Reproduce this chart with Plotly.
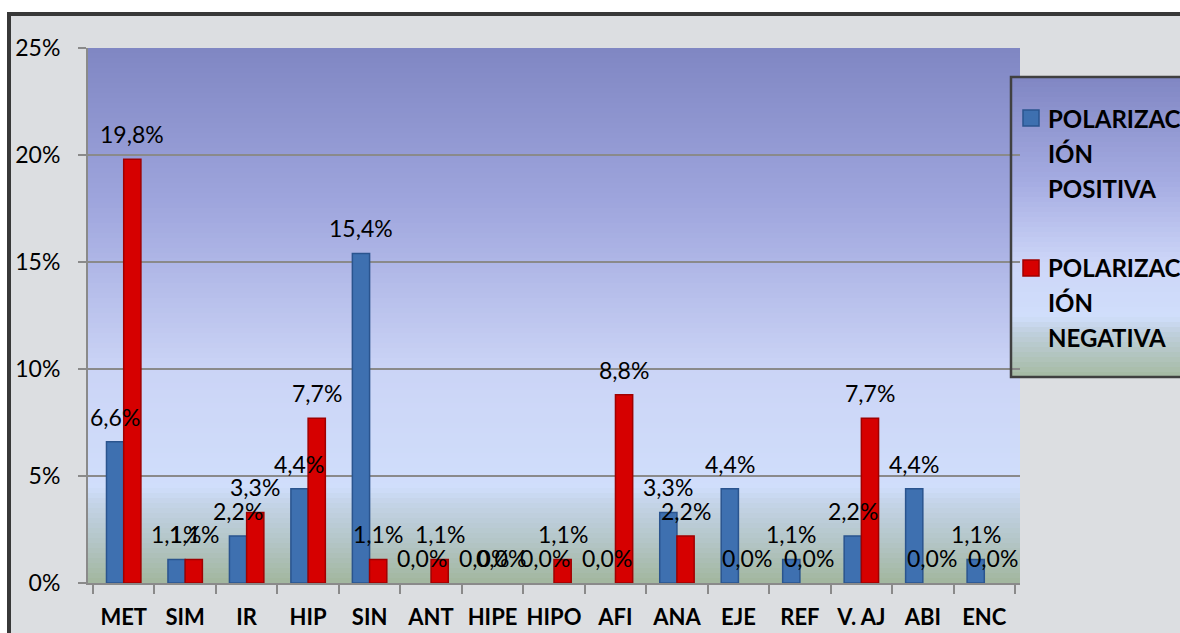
import plotly.graph_objects as go

categories = ["MET", "SIM", "IR", "HIP", "SIN", "ANT", "HIPE", "HIPO", "AFI", "ANA", "EJE", "REF", "V. AJ", "ABI", "ENC"]
positiva = [6.6, 1.1, 2.2, 4.4, 15.4, 0.0, 0.0, 0.0, 0.0, 3.3, 4.4, 1.1, 2.2, 4.4, 1.1]
negativa = [19.8, 1.1, 3.3, 7.7, 1.1, 1.1, 0.0, 1.1, 8.8, 2.2, 0.0, 0.0, 7.7, 0.0, 0.0]
series_names = ["POLARIZACIÓN POSITIVA", "POLARIZACIÓN NEGATIVA"]
legend_lines = [["POLARIZAC", "IÓN", "POSITIVA"], ["POLARIZAC", "IÓN", "NEGATIVA"]]
y_ticks = [0, 5, 10, 15, 20, 25]

W, H = 1180, 633
ML, MR, MT, MB = 88, 160, 48, 50
PW, PH = W - ML - MR, H - MT - MB
FONT = "Lato"
GRID = "#8a8a8a"
BLUE, BLUE_EDGE = "#3e70b0", "#2a548e"
RED, RED_EDGE = "#d60000", "#a00000"
BARGAP = 0.44


def px_x(px):
    return (px - ML) / PW


def px_y(py):
    return (H - MB - py) / PH


def lerp_color(stops, t):
    for (t0, c0), (t1, c1) in zip(stops, stops[1:]):
        if t0 <= t <= t1:
            f = 0 if t1 == t0 else (t - t0) / (t1 - t0)
            c = [round(a + (b - a) * f) for a, b in zip(c0, c1)]
            return f"rgb({c[0]},{c[1]},{c[2]})"
    c = stops[-1][1]
    return f"rgb({c[0]},{c[1]},{c[2]})"


def gradient_bands(x0, x1, y0, y1, stops, n):
    out = []
    step = (y1 - y0) / n
    for k in range(n):
        ya = y0 + k * step
        yb = ya + step + 0.8
        t = (k + 0.5) / n
        out.append(dict(type="rect", xref="paper", yref="paper", layer="below",
                        x0=px_x(x0), x1=px_x(x1), y0=px_y(min(yb, y1)), y1=px_y(ya),
                        line=dict(width=0), fillcolor=lerp_color(stops, t)))
    return out


plot_stops = [
    (0.00, (128, 134, 195)),
    (0.30, (160, 167, 222)),
    (0.60, (203, 212, 246)),
    (0.82, (208, 222, 251)),
    (0.85, (196, 212, 232)),
    (0.92, (180, 198, 200)),
    (1.00, (162, 182, 158)),
]
legend_stops = [
    (0.00, (128, 134, 195)),
    (0.35, (165, 172, 226)),
    (0.62, (205, 214, 248)),
    (0.80, (208, 222, 251)),
    (0.85, (192, 208, 222)),
    (1.00, (165, 186, 162)),
]

shapes = []
# outer chart frame (marble-like grey)
shapes.append(dict(type="rect", xref="paper", yref="paper", layer="below",
                   x0=px_x(9), x1=px_x(W + 20), y0=px_y(H + 20), y1=px_y(14),
                   line=dict(color="#383838", width=4), fillcolor="#dcdee1"))
# plot area gradient
shapes += gradient_bands(ML, ML + PW, MT, MT + PH, plot_stops, 107)
# legend box
LX0, LX1, LY0, LY1 = 1011, 1200, 77, 377
shapes += gradient_bands(LX0, LX1, LY0, LY1, legend_stops, 60)
shapes.append(dict(type="rect", xref="paper", yref="paper", layer="above",
                   x0=px_x(LX0), x1=px_x(LX1), y0=px_y(LY1), y1=px_y(LY0),
                   line=dict(color="#404040", width=2.5), fillcolor="rgba(0,0,0,0)"))
# legend markers
for (cy, fill, edge) in [(118, BLUE, BLUE_EDGE), (268, RED, RED_EDGE)]:
    shapes.append(dict(type="rect", xref="paper", yref="paper", layer="above",
                       x0=px_x(1023), x1=px_x(1039), y0=px_y(cy + 8), y1=px_y(cy - 8),
                       line=dict(color=edge, width=1.5), fillcolor=fill))

annotations = []
# legend texts
for lines, top in zip(legend_lines, [118, 267]):
    for j, txt in enumerate(lines):
        annotations.append(dict(xref="paper", yref="paper", x=px_x(1046), y=px_y(top + 35 * j),
                                xanchor="left", yanchor="middle", showarrow=False, text=txt,
                                font=dict(family=FONT, size=24, color="black", weight="bold")))


def fmt(v):
    return f"{v:.1f}".replace(".", ",") + "%"


half = (1 - BARGAP) / 4 * (PW / len(categories))
for vals, sh in [(positiva, -half), (negativa, half)]:
    for c, v in zip(categories, vals):
        annotations.append(dict(x=c, y=v, xref="x", yref="y", xshift=sh, yshift=25,
                                xanchor="center", yanchor="middle", showarrow=False,
                                text=fmt(v), font=dict(family=FONT, size=23, color="black")))

fig = go.Figure()
fig.add_trace(go.Bar(x=categories, y=positiva, name=series_names[0],
                     marker=dict(color=BLUE, line=dict(color=BLUE_EDGE,
                                                       width=[1.5 if v > 0 else 0 for v in positiva]))))
fig.add_trace(go.Bar(x=categories, y=negativa, name=series_names[1],
                     marker=dict(color=RED, line=dict(color=RED_EDGE,
                                                      width=[1.5 if v > 0 else 0 for v in negativa]))))

fig.update_layout(
    width=W, height=H,
    margin=dict(l=ML, r=MR, t=MT, b=MB, pad=0),
    paper_bgcolor="white", plot_bgcolor="rgba(0,0,0,0)",
    barmode="group", bargap=BARGAP, bargroupgap=0,
    showlegend=False,
    separators=",.",
    font=dict(family=FONT, size=23, color="black"),
    shapes=shapes, annotations=annotations,
)
fig.update_xaxes(type="category", showline=True, linecolor=GRID, linewidth=2,
                 ticks="outside", tickson="boundaries", ticklen=9, tickcolor=GRID, tickwidth=2,
                 tickfont=dict(family=FONT, size=22, color="black", weight="bold"),
                 tickangle=0, automargin=False,
                 ticklabelstandoff=14, showgrid=False)
fig.update_yaxes(range=[0, 25], tickvals=y_ticks, ticktext=[f"{t}%" for t in y_ticks],
                 showline=True, linecolor=GRID, linewidth=2, automargin=False,
                 ticks="outside", ticklen=8, tickcolor=GRID, tickwidth=2,
                 showgrid=True, gridcolor=GRID, gridwidth=2, zeroline=False,
                 tickfont=dict(family=FONT, size=23, color="black"), ticklabelstandoff=13)

fig.write_html("out.html")
